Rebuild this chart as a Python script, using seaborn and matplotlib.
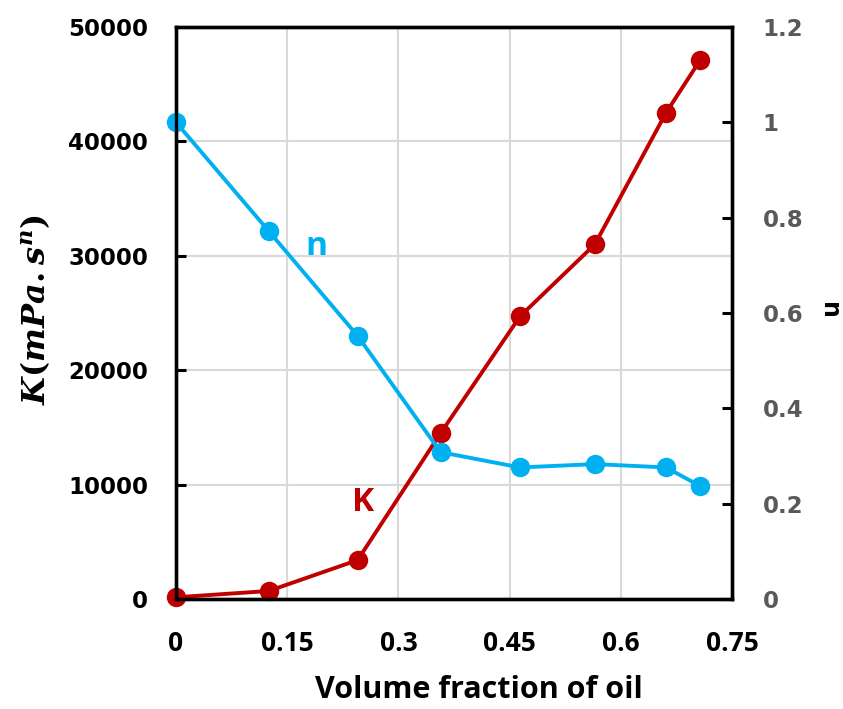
import matplotlib
matplotlib.use("Agg")
import matplotlib.pyplot as plt
import pandas as pd
import seaborn as sns

# Consistency index K and flow index n versus oil volume fraction
oil_fraction = [0, 0.125, 0.245, 0.357, 0.464, 0.565, 0.661, 0.707]
k_values = [150, 700, 3400, 14500, 24700, 31000, 42500, 47100]
n_values = [1.0, 0.772, 0.552, 0.308, 0.276, 0.283, 0.276, 0.237]

x_ticks = [0, 0.15, 0.3, 0.45, 0.6, 0.75]
x_tick_labels = ["0", "0.15", "0.3", "0.45", "0.6", "0.75"]
k_ticks = [0, 10000, 20000, 30000, 40000, 50000]
k_tick_labels = ["0", "10000", "20000", "30000", "40000", "50000"]
n_ticks = [0, 0.2, 0.4, 0.6, 0.8, 1.0, 1.2]
n_tick_labels = ["0", "0.2", "0.4", "0.6", "0.8", "1", "1.2"]

K_COLOR = "#C00000"
N_COLOR = "#00B0F0"

sns.set_theme(style="white")
plt.rcParams["font.family"] = ["DejaVu Sans"]
plt.rcParams["mathtext.fontset"] = "custom"
plt.rcParams["mathtext.it"] = "DejaVu Serif:italic:bold"
plt.rcParams["mathtext.rm"] = "DejaVu Serif:bold"

df = pd.DataFrame({"oil": oil_fraction, "K": k_values, "n": n_values})

fig = plt.figure(figsize=(8.43, 7.09), dpi=100)
ax = fig.add_axes([176 / 843, 1 - 599 / 709, 556 / 843, 572 / 709])
ax2 = ax.twinx()

line_kw = dict(marker="o", markersize=14, linewidth=2.8, markeredgewidth=0)
sns.lineplot(data=df, x="oil", y="K", ax=ax, color=K_COLOR, **line_kw)
sns.lineplot(data=df, x="oil", y="n", ax=ax2, color=N_COLOR, **line_kw)
for ln in ax.lines + ax2.lines:
    ln.set_clip_on(False)

ax.set_xlim(0, 0.75)
ax.set_ylim(0, 50000)
ax2.set_ylim(0, 1.2)

ax.set_xticks(x_ticks)
ax.set_xticklabels(x_tick_labels, fontfamily="Open Sans", fontweight="bold",
                   fontsize=19, color="black")
ax.set_yticks(k_ticks)
ax.set_yticklabels(k_tick_labels, fontweight="bold", fontsize=16.5, color="black")
ax2.set_yticks(n_ticks)
ax2.set_yticklabels(n_tick_labels, fontweight="bold", fontsize=16.5, color="#595959")

ax.grid(True, color="#D9D9D9", linewidth=1.5)
ax.set_axisbelow(True)

ax.tick_params(axis="x", length=0, pad=22)
ax.tick_params(axis="y", direction="in", length=7, width=2.2, color="black", pad=20)
ax2.tick_params(axis="y", direction="in", length=7, width=2.2, color="black", pad=22)

for a in (ax, ax2):
    for sp in a.spines.values():
        sp.set_visible(True)
        sp.set_color("black")
        sp.set_linewidth(2.4)

ax.set_xlabel("")
ax.set_ylabel("")
ax2.set_ylabel("")

fig.text(479 / 843, 1 - 690 / 709, "Volume fraction of oil", ha="center", va="center",
         fontfamily="Open Sans", fontweight="bold", fontsize=22, color="black")
fig.text(35 / 843, 1 - 310 / 709, r"$K(mPa.s^{n})$", rotation=90, ha="center",
         va="center", fontsize=23, color="black")
fig.text(829 / 843, 1 - 310 / 709, "n", rotation=-90, ha="center", va="center",
         fontweight="bold", fontsize=17, color="black")

ax.text(0.19, 30800, "n", color=N_COLOR, fontfamily="Open Sans", fontweight="bold",
        fontsize=24, ha="center", va="center")
ax.text(0.253, 8400, "K", color=K_COLOR, fontfamily="Open Sans", fontweight="bold",
        fontsize=24, ha="center", va="center")

fig.savefig("out.png", dpi=100, facecolor="white")
